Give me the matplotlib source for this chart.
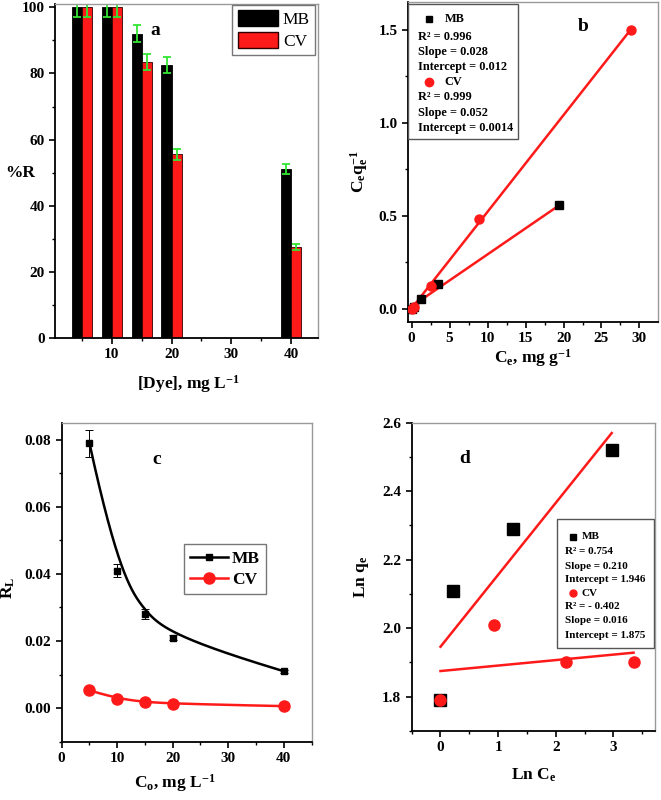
import numpy as np
import matplotlib
matplotlib.use("Agg")
import matplotlib.pyplot as plt
import matplotlib.ticker as ticker
from matplotlib.patches import Patch, Rectangle
from matplotlib.lines import Line2D

plt.rcParams["font.family"] = ["Liberation Serif", "DejaVu Serif"]
plt.rcParams["font.weight"] = "bold"
plt.rcParams["axes.labelweight"] = "bold"
plt.rcParams["mathtext.fontset"] = "custom"
plt.rcParams["mathtext.rm"] = "Liberation Serif:bold"
plt.rcParams["mathtext.it"] = "Liberation Serif:bold"
plt.rcParams["mathtext.bf"] = "Liberation Serif:bold"

# (a) removal % vs dye concentration
dye_conc = [5, 10, 15, 20, 40]
mb_removal = [100, 100, 92, 82.5, 51]
cv_removal = [100, 100, 83.5, 55.5, 27.5]
mb_removal_err = [3, 3, 2.5, 2.5, 1.5]
cv_removal_err = [3, 3, 2.5, 1.8, 1.0]

# (b) Langmuir linear plot
mb_ce = [0.0, 0.3, 1.2, 3.5, 19.4]
mb_ceqe = [0.0, 0.01, 0.05, 0.13, 0.56]
cv_ce = [0.0, 0.3, 2.5, 8.9, 28.9]
cv_ceqe = [0.0, 0.01, 0.12, 0.48, 1.50]
mb_lang = (0.028, 0.012)   # slope, intercept
cv_lang = (0.052, 0.0014)

# (c) separation factor
c0 = [5, 10, 15, 20, 40]
mb_rl = [0.079, 0.041, 0.028, 0.021, 0.011]
mb_rl_err = [0.004, 0.002, 0.0015, 0.0008, 0.0005]
cv_rl = [0.0053, 0.0028, 0.0018, 0.0013, 0.0006]

# (d) Freundlich plot
mb_lnce = [0.0, 0.22, 1.25, 2.97]
mb_lnqe = [1.79, 2.11, 2.29, 2.52]
cv_lnce = [0.0, 0.92, 2.18, 3.35]
cv_lnqe = [1.79, 2.01, 1.90, 1.90]
mb_freu = (0.210, 1.946)
cv_freu = (0.016, 1.875)

RED = "#ff1a1a"
GREEN = "#33e633"


def bspline(xs, ys, k=3, n=300):
    # clamped B-spline through control points (like Origin's B-spline connect)
    P = np.column_stack([xs, ys]).astype(float)
    m = len(P)
    kn = np.r_[np.zeros(k), np.linspace(0, 1, m - k + 1), np.ones(k)]
    out = []
    for t in np.linspace(0, 1, n):
        j = min(np.searchsorted(kn, t, side="right") - 1, m - 1)
        d = [P[j - k + r].copy() for r in range(k + 1)]
        for r in range(1, k + 1):
            for s in range(k, r - 1, -1):
                i = j - k + s
                a = (t - kn[i]) / (kn[i + k + 1 - r] - kn[i])
                d[s] = (1 - a) * d[s - 1] + a * d[s]
        out.append(d[k])
    out = np.array(out)
    return out[:, 0], out[:, 1]


def style(ax):
    for s in ["top", "right"]:
        ax.spines[s].set_color("#9a9a9a")
        ax.spines[s].set_linewidth(1.0)
    for s in ["left", "bottom"]:
        ax.spines[s].set_color("black")
        ax.spines[s].set_linewidth(1.3)
    ax.tick_params(which="major", direction="out", length=4, width=1.2,
                   labelsize=11, top=False, right=False)
    ax.tick_params(which="minor", direction="out", length=2.5, width=1.0,
                   top=False, right=False)


fig = plt.figure(figsize=(6.61, 8.0), dpi=100)

# ---- panel a
ax = fig.add_axes([0.0832, 0.5775, 0.398, 0.4175])
x = np.array(dye_conc, dtype=float)
ax.bar(x - 0.85, mb_removal, width=1.7, color="black", edgecolor="black", lw=0.6)
ax.bar(x + 0.85, cv_removal, width=1.7, color=RED, edgecolor="#300000", lw=0.6)
ax.errorbar(x - 0.85, mb_removal, yerr=mb_removal_err, fmt="none", ecolor=GREEN,
            elinewidth=1.3, capsize=3, capthick=1.3)
ax.errorbar(x + 0.85, cv_removal, yerr=cv_removal_err, fmt="none", ecolor=GREEN,
            elinewidth=1.3, capsize=3, capthick=1.3)
ax.set_xlim(0.5, 44.5)
ax.set_ylim(0, 101)
ax.xaxis.set_major_locator(ticker.MultipleLocator(10))
ax.xaxis.set_minor_locator(ticker.MultipleLocator(5))
ax.yaxis.set_major_locator(ticker.MultipleLocator(20))
ax.yaxis.set_minor_locator(ticker.MultipleLocator(10))
style(ax)
ax.set_xlabel("[Dye], mg L$^{-1}$", fontsize=12.5)
ax.xaxis.set_label_coords(0.508, -0.105)
ax.set_ylabel("%R", fontsize=12.5, rotation=0, ha="center", va="center")
ax.yaxis.set_label_coords(-0.133, 0.494)
ax.text(0.38, 0.922, "a", transform=ax.transAxes, fontsize=14, ha="center", va="center")
leg = ax.legend([Patch(facecolor="black", edgecolor="black"),
                 Patch(facecolor=RED, edgecolor="#300000")], ["MB", "CV"],
                loc="upper right", bbox_to_anchor=(0.989, 0.997), borderaxespad=0,
                fancybox=False, edgecolor="#555555", handlelength=2.3,
                handleheight=1.0, handletextpad=0.3, borderpad=0.3,
                labelspacing=0.25, prop={"size": 12.5, "weight": "normal"})
leg.get_frame().set_linewidth(1.0)

# ---- panel b
ax = fig.add_axes([0.617, 0.5975, 0.378, 0.40])
xx = np.array([0, max(mb_ce)])
ax.plot(xx, mb_lang[0] * xx + mb_lang[1], color=RED, lw=1.8, zorder=2)
xx = np.array([0, max(cv_ce)])
ax.plot(xx, cv_lang[0] * xx + cv_lang[1], color=RED, lw=1.8, zorder=2)
ax.plot(mb_ce, mb_ceqe, "s", color="black", ms=5.5, zorder=3)
ax.plot(cv_ce, cv_ceqe, "o", color=RED, ms=6.5, zorder=4)
ax.set_xlim(-0.5, 32.4)
ax.set_ylim(-0.072, 1.65)
ax.xaxis.set_major_locator(ticker.MultipleLocator(5))
ax.xaxis.set_minor_locator(ticker.MultipleLocator(2.5))
ax.yaxis.set_major_locator(ticker.MultipleLocator(0.5))
ax.yaxis.set_minor_locator(ticker.MultipleLocator(0.25))
ax.yaxis.set_major_formatter(ticker.FormatStrFormatter("%.1f"))
style(ax)
ax.set_xlabel("C$_e$, mg g$^{-1}$", fontsize=12.5)
ax.xaxis.set_label_coords(0.502, -0.078)
ax.set_ylabel("C$_e$q$_e^{-1}$", fontsize=12.5)
ax.yaxis.set_label_coords(-0.15, 0.47)
ax.text(0.70, 0.923, "b", transform=ax.transAxes, fontsize=14, ha="center", va="center")
ax.add_patch(Rectangle((0.0, 0.572), 0.44, 0.422, transform=ax.transAxes,
                       facecolor="white", edgecolor="#555555", lw=1.0, zorder=5))
rows_b = [0.947, 0.891, 0.844, 0.797, 0.75, 0.703, 0.653, 0.606]
texts_b = [None, "R² = 0.996", "Slope = 0.028", "Intercept = 0.012",
           None, "R² = 0.999", "Slope = 0.052", "Intercept = 0.0014"]
for yv, t in zip(rows_b, texts_b):
    if t:
        ax.text(0.04, yv, t, transform=ax.transAxes, fontsize=8.8, va="center", zorder=6)
ax.plot([0.084], [rows_b[0]], "s", color="black", ms=5, transform=ax.transAxes, zorder=6, clip_on=False)
ax.text(0.148, rows_b[0], "MB", transform=ax.transAxes, fontsize=8.8, va="center", zorder=6)
ax.plot([0.084], [rows_b[4]], "o", color=RED, ms=6, transform=ax.transAxes, zorder=6, clip_on=False)
ax.text(0.148, rows_b[4], "CV", transform=ax.transAxes, fontsize=8.8, va="center", zorder=6)

# ---- panel c
ax = fig.add_axes([0.0933, 0.0729, 0.378, 0.3984])
sx, sy = bspline(c0, mb_rl)
ax.plot(sx, sy, color="black", lw=1.8, zorder=2)
ax.errorbar(c0, mb_rl, yerr=mb_rl_err, fmt="none", ecolor="black", elinewidth=0.7,
            capsize=3, capthick=0.7, zorder=3)
ax.plot(c0, mb_rl, "s", color="black", ms=5, zorder=4)
sx, sy = bspline(c0, cv_rl)
ax.plot(sx, sy, color=RED, lw=1.8, zorder=2)
ax.plot(c0, cv_rl, "o", color=RED, ms=8, zorder=4)
ax.set_xlim(0, 45)
ax.set_ylim(-0.01, 0.085)
ax.xaxis.set_major_locator(ticker.MultipleLocator(10))
ax.xaxis.set_minor_locator(ticker.MultipleLocator(5))
ax.yaxis.set_major_locator(ticker.MultipleLocator(0.02))
ax.yaxis.set_minor_locator(ticker.MultipleLocator(0.01))
ax.yaxis.set_major_formatter(ticker.FormatStrFormatter("%.2f"))
style(ax)
ax.set_xlabel("C$_o$, mg L$^{-1}$", fontsize=12.5)
ax.xaxis.set_label_coords(0.453, -0.095)
ax.set_ylabel("R$_L$", fontsize=12.5)
ax.yaxis.set_label_coords(-0.18, 0.482)
ax.text(0.381, 0.884, "c", transform=ax.transAxes, fontsize=14, ha="center", va="center")
leg = ax.legend([Line2D([], [], color="black", lw=1.8, marker="s", ms=5),
                 Line2D([], [], color=RED, lw=1.8, marker="o", ms=8)], ["MB", "CV"],
                loc="lower left", bbox_to_anchor=(0.49, 0.463), borderaxespad=0,
                fancybox=False, edgecolor="#555555", handlelength=2.2,
                handletextpad=0.2, borderpad=0.35, labelspacing=0.3,
                prop={"size": 12.5, "weight": "bold"})
leg.get_frame().set_linewidth(1.0)

# ---- panel d
ax = fig.add_axes([0.6228, 0.08625, 0.368, 0.3854])
xx = np.array([0, max(mb_lnce)])
ax.plot(xx, mb_freu[0] * xx + mb_freu[1], color=RED, lw=1.8, zorder=2)
xx = np.array([0, max(cv_lnce)])
ax.plot(xx, cv_freu[0] * xx + cv_freu[1], color=RED, lw=1.8, zorder=2)
ax.plot(mb_lnce, mb_lnqe, "s", color="black", ms=8, zorder=3)
ax.plot(cv_lnce, cv_lnqe, "o", color=RED, ms=8, zorder=4)
ax.set_xlim(-0.5, 3.72)
ax.set_ylim(1.7, 2.6)
ax.xaxis.set_major_locator(ticker.MultipleLocator(1))
ax.xaxis.set_minor_locator(ticker.MultipleLocator(0.5))
ax.yaxis.set_major_locator(ticker.MultipleLocator(0.2))
ax.yaxis.set_minor_locator(ticker.MultipleLocator(0.1))
ax.yaxis.set_major_formatter(ticker.FormatStrFormatter("%.1f"))
style(ax)
ax.set_xlabel("Ln C$_e$", fontsize=12.5)
ax.xaxis.set_label_coords(0.503, -0.115)
ax.set_ylabel("Ln q$_e$", fontsize=12.5)
ax.yaxis.set_label_coords(-0.168, 0.50)
ax.text(0.219, 0.885, "d", transform=ax.transAxes, fontsize=14, ha="center", va="center")
ax.add_patch(Rectangle((0.596, 0.270), 0.40, 0.417, transform=ax.transAxes,
                       facecolor="white", edgecolor="#555555", lw=1.0, zorder=5))
rows_d = [0.630, 0.582, 0.533, 0.490, 0.447, 0.403, 0.358, 0.311]
texts_d = [None, "R² = 0.754", "Slope = 0.210", "Intercept = 1.946",
           None, "R² = - 0.402", "Slope = 0.016", "Intercept = 1.875"]
for yv, t in zip(rows_d, texts_d):
    if t:
        ax.text(0.63, yv, t, transform=ax.transAxes, fontsize=8, va="center", zorder=6)
ax.plot([0.662], [rows_d[0]], "s", color="black", ms=4.5, transform=ax.transAxes, zorder=6, clip_on=False)
ax.text(0.699, rows_d[0], "MB", transform=ax.transAxes, fontsize=8, va="center", zorder=6)
ax.plot([0.662], [rows_d[4]], "o", color=RED, ms=5, transform=ax.transAxes, zorder=6, clip_on=False)
ax.text(0.699, rows_d[4], "CV", transform=ax.transAxes, fontsize=8, va="center", zorder=6)

fig.savefig("out.png", dpi=100)
